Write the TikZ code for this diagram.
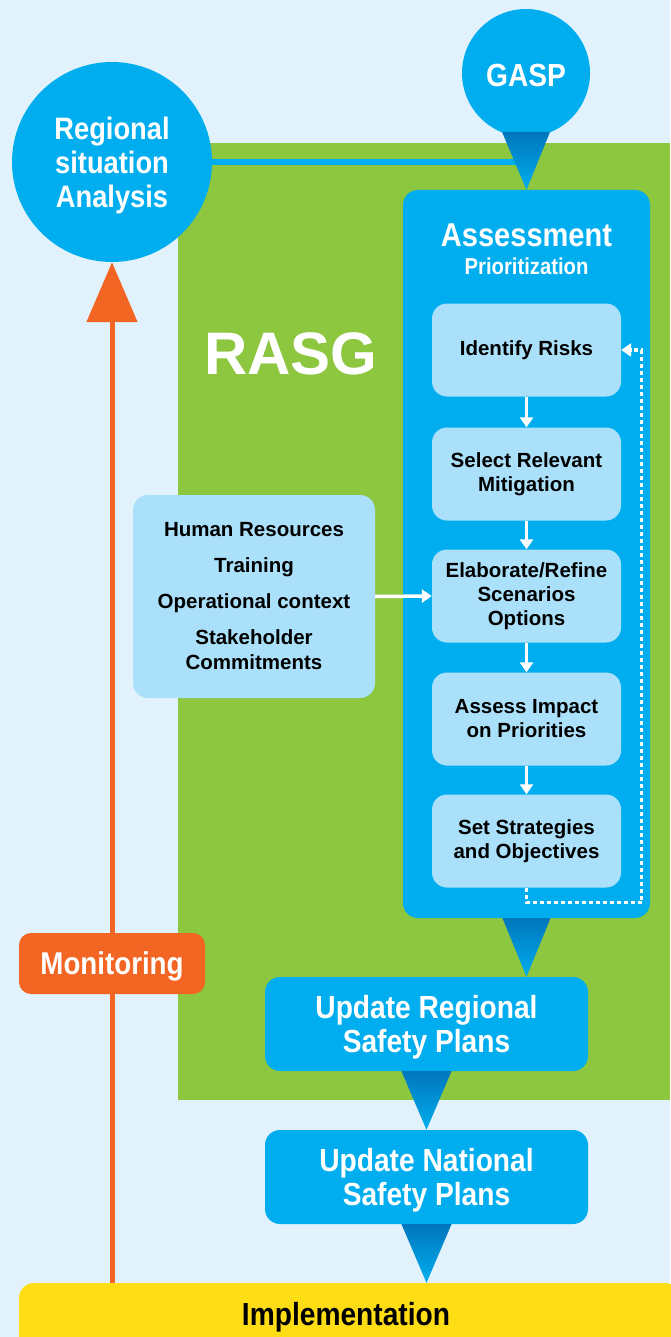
\documentclass[tikz,border=0pt]{standalone}
\usepackage{fontspec}
\setmainfont{Liberation Sans}
\newfontfamily\condfont{Liberation Sans}[FakeStretch=0.88]
\usetikzlibrary{arrows.meta,calc}
\definecolor{bgc}{RGB}{225,242,252}
\definecolor{greenc}{RGB}{141,198,63}
\definecolor{bluec}{RGB}{0,174,239}
\definecolor{lightc}{RGB}{170,224,250}
\definecolor{orangec}{RGB}{242,101,34}
\definecolor{yellowc}{RGB}{255,221,21}
\definecolor{darkbluec}{RGB}{0,118,188}
\begin{document}
\begin{tikzpicture}[x=1pt,y=-1pt,
  bluecircle/.style={circle,fill=bluec,text=white,align=center,inner sep=0pt,
    font=\condfont\bfseries\fontsize{31}{34}\selectfont},
  bigbox/.style={rectangle,rounded corners=15pt,fill=bluec,inner sep=0pt},
  stepbox/.style={rectangle,rounded corners=15pt,fill=lightc,text=black,align=center,
    inner sep=0pt,minimum width=189pt,minimum height=93pt,
    font=\bfseries\fontsize{20.5}{24}\selectfont},
  planbox/.style={rectangle,rounded corners=15pt,fill=bluec,text=white,align=center,
    inner sep=0pt,minimum width=323pt,minimum height=94pt,text depth=0pt,
    font=\condfont\bfseries\fontsize{32}{34}\selectfont},
  warrow/.style={draw=white,line width=3.5pt,-{Triangle[width=13pt,length=10pt]}},
  dotloop/.style={draw=white,line width=3.5pt,dash pattern=on 4pt off 3pt,
    -{Triangle[width=13pt,length=10pt]}},
  tri/.style={top color=darkbluec,bottom color=bluec},
  whitetitle/.style={text=white,inner sep=0pt,font=\condfont\bfseries\fontsize{33}{34}\selectfont}]

\useasboundingbox (0,0) rectangle (670,1337);
\fill[bgc] (0,0) rectangle (670,1337);

% green RASG area
\node[rectangle,fill=greenc,inner sep=0pt,minimum width=492pt,minimum height=957pt] (rasgarea) at (424,621.5) {};

% circles and assessment box
\node[bluecircle,minimum size=200pt,text depth=0pt] (reg) at (112,162) {Regional\\situation\\Analysis};
\node[bluecircle,minimum size=128pt,font=\condfont\bfseries\fontsize{32}{34}\selectfont,
  text height=28pt,text depth=0pt] (gasp) at (526,73) {GASP};
\node[bigbox,minimum width=247pt,minimum height=728pt] (assess) at (526.5,554) {};

% connector from regional circle to GASP pointer
\draw[bluec,line width=6pt] (reg.east) -- (reg.east -| gasp.center);
\shade[tri] ($(gasp.center)+(-24,59)$) -- ($(gasp.center)+(24,59)$) -- (assess.north) -- cycle;

% assessment titles
\node[whitetitle] (asstitle) at ($(assess.north)+(0,46)$) {Assessment};
\node[whitetitle,font=\condfont\bfseries\fontsize{23}{24}\selectfont] (prio) at ($(assess.north)+(0,76)$) {Prioritization};

% steps
\node[stepbox] (b1) at (526.5,350) {Identify Risks};
\node[stepbox] (b2) at (526.5,474) {Select Relevant\\Mitigation};
\node[stepbox] (b3) at (526.5,596) {Elaborate/Refine\\Scenarios\\Options};
\node[stepbox] (b4) at (526.5,719) {Assess Impact\\on Priorities};
\node[stepbox] (b5) at (526.5,841) {Set Strategies\\and Objectives};
\draw[warrow] (b1.south) -- (b2.north);
\draw[warrow] (b2.south) -- (b3.north);
\draw[warrow] (b3.south) -- (b4.north);
\draw[warrow] (b4.south) -- (b5.north);
\draw[dotloop] (b5.south) -- ++(0,15) -- ++(115,0) |- (b1.east);

% inputs box
\node[rectangle,rounded corners=15pt,fill=lightc,text=black,align=center,inner sep=0pt,
  minimum width=242pt,minimum height=203pt,font=\bfseries\fontsize{20.5}{25}\selectfont]
  (hr) at (254,596.5) {Human Resources\\[11pt]Training\\[11pt]Operational context\\[11pt]Stakeholder\\Commitments};
\draw[warrow] (hr.east) -- (b3.west);

% RASG label
\node[text=white,inner sep=0pt,font=\bfseries\fontsize{60}{60}\selectfont] (rasg) at (291,354) {RASG};

% plans and implementation
\node[planbox] (upreg) at (426.5,1024) {Update Regional\\Safety Plans};
\node[planbox] (upnat) at (426.5,1177) {Update National\\Safety Plans};
\node[rectangle,rounded corners=15pt,fill=yellowc,text=black,inner sep=0pt,
  minimum width=661pt,minimum height=90pt] (impl) at (349.5,1328) {};
\node[text=black,inner sep=0pt,text depth=0pt,font=\condfont\bfseries\fontsize{32}{34}\selectfont] (impltext) at (346,1314) {Implementation};

\shade[tri] ($(assess.south)+(-24,0)$) -- ($(assess.south)+(24,0)$) -- (assess.south |- upreg.north) -- cycle;
\shade[tri] ($(upreg.south)+(-25,0)$) -- ($(upreg.south)+(25,0)$) -- (upnat.north) -- cycle;
\shade[tri] ($(upnat.south)+(-25,0)$) -- ($(upnat.south)+(25,0)$) -- (upnat.south |- impl.north) -- cycle;

% monitoring feedback
\draw[orangec,line width=5pt,-{Triangle[width=50pt,length=60pt]}] (reg.south |- impl.north) -- (reg.south);
\node[rectangle,rounded corners=12pt,fill=orangec,text=white,inner sep=0pt,
  minimum width=186pt,minimum height=61pt,text depth=0pt,
  font=\condfont\bfseries\fontsize{31.5}{34}\selectfont]
  (mon) at (112,963.5) {Monitoring};
\end{tikzpicture}
\end{document}
